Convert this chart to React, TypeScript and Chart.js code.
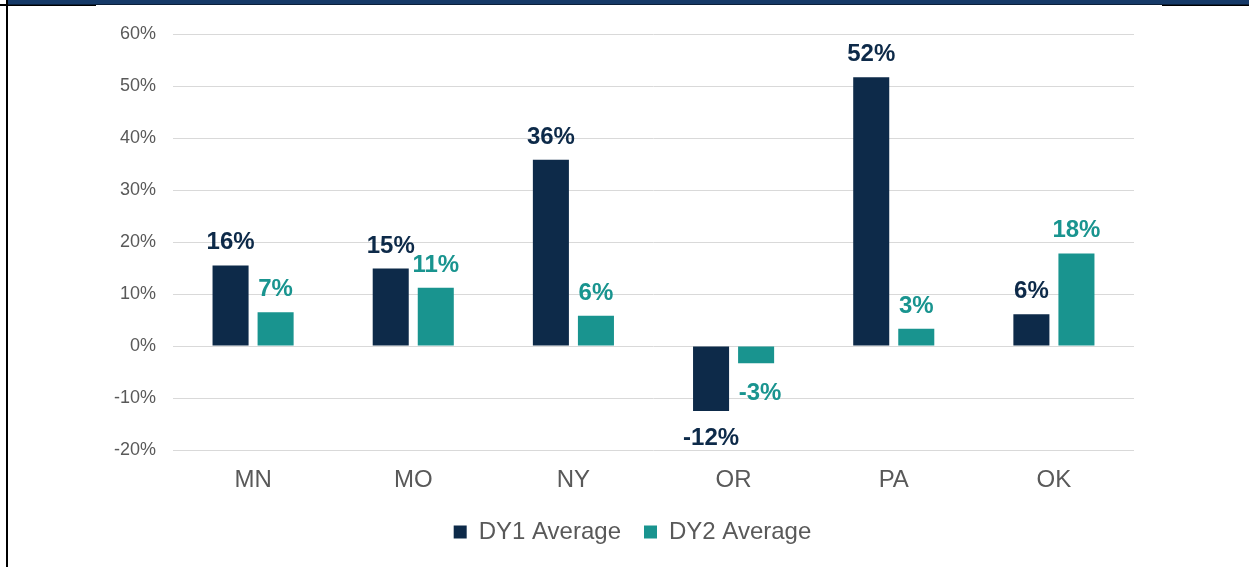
import React, { useEffect, useRef } from "react";
import { Chart, registerables } from "chart.js";

Chart.register(...registerables);

const categories = ["MN", "MO", "NY", "OR", "PA", "OK"];
const dy1Values = [15.5, 14.9, 35.8, -12.5, 51.7, 6.1];
const dy2Values = [6.5, 11.2, 5.8, -3.3, 3.3, 17.8];
const dy1Labels = ["16%", "15%", "36%", "-12%", "52%", "6%"];
const dy2Labels = ["7%", "11%", "6%", "-3%", "3%", "18%"];
const seriesNames = ["DY1 Average", "DY2 Average"];

const NAVY = "#0d2a49";
const TEAL = "#19948f";
const GRAY = "#595959";
const FONT = "'Liberation Sans', Arial, sans-serif";

const labelPlugin = {
  id: "valueLabels",
  afterDatasetsDraw(chart: any) {
    const ctx = chart.ctx;
    const labelSets = [dy1Labels, dy2Labels];
    const colors = [NAVY, TEAL];
    ctx.save();
    ctx.font = `bold 24px ${FONT}`;
    ctx.textAlign = "center";
    ctx.textBaseline = "alphabetic";
    chart.data.datasets.forEach((ds: any, di: number) => {
      const meta = chart.getDatasetMeta(di);
      meta.data.forEach((bar: any, i: number) => {
        const v = ds.data[i];
        ctx.fillStyle = colors[di];
        const txt = labelSets[di][i];
        if (v >= 0) {
          ctx.fillText(txt, bar.x, bar.y - 16);
        } else {
          ctx.fillText(txt, bar.x + (di === 1 ? 4 : 0), bar.y + (di === 1 ? 37 : 34));
        }
      });
    });
    ctx.restore();
  },
};

export default function App() {
  const canvasRef = useRef<HTMLCanvasElement | null>(null);

  useEffect(() => {
    if (!canvasRef.current) return;
    const chart = new Chart(canvasRef.current, {
      type: "bar",
      data: {
        labels: categories,
        datasets: [
          {
            label: seriesNames[0],
            data: dy1Values,
            backgroundColor: NAVY,
            categoryPercentage: 0.5625,
            barPercentage: 0.8,
          },
          {
            label: seriesNames[1],
            data: dy2Values,
            backgroundColor: TEAL,
            categoryPercentage: 0.5625,
            barPercentage: 0.8,
          },
        ],
      },
      options: {
        animation: false,
        responsive: false,
        maintainAspectRatio: false,
        layout: { padding: { top: 34, right: 0, bottom: 13, left: 16 } },
        plugins: {
          tooltip: { enabled: false },
          legend: {
            position: "bottom",
            labels: {
              boxWidth: 13,
              boxHeight: 13,
              padding: 23,
              color: GRAY,
              font: { family: FONT, size: 24 },
            },
          },
        },
        scales: {
          x: {
            grid: { display: false, drawTicks: false },
            border: { display: false },
            ticks: { color: GRAY, font: { family: FONT, size: 24 }, padding: 16 },
            afterFit: (scale: any) => {
              scale.height = 47;
            },
          },
          y: {
            min: -20,
            max: 60,
            grid: { color: "#d9d9d9", lineWidth: 1, drawTicks: false },
            border: { display: false },
            ticks: {
              stepSize: 10,
              color: GRAY,
              padding: 17,
              font: { family: FONT, size: 18 },
              callback: (v: any) => `${v}%`,
            },
            afterFit: (scale: any) => {
              scale.width = 157;
            },
          },
          yRight: {
            position: "right",
            min: -20,
            max: 60,
            grid: { display: false, drawTicks: false },
            border: { display: false },
            ticks: { display: false },
            afterFit: (scale: any) => {
              scale.width = 115;
            },
          },
        },
      },
      plugins: [labelPlugin],
    });
    return () => chart.destroy();
  }, []);

  return (
    <div
      style={{
        position: "fixed",
        left: 0,
        top: 0,
        width: 1249,
        height: 567,
        background: "#ffffff",
        overflow: "hidden",
      }}
    >
      <canvas
        ref={canvasRef}
        width={1249}
        height={567}
        style={{ position: "absolute", left: 0, top: 0, width: 1249, height: 567 }}
      />
      <div style={{ position: "absolute", left: 8, top: 0, width: 1241, height: 4, background: "#163a68" }} />
      <div style={{ position: "absolute", left: 0, top: 4, width: 96, height: 2, background: "#000" }} />
      <div style={{ position: "absolute", left: 1162, top: 4, width: 87, height: 2, background: "#000" }} />
      <div style={{ position: "absolute", left: 8, top: 4, width: 1241, height: 1, background: "#0a1f3a" }} />
      <div style={{ position: "absolute", left: 6, top: 0, width: 2, height: 567, background: "#000" }} />
    </div>
  );
}
